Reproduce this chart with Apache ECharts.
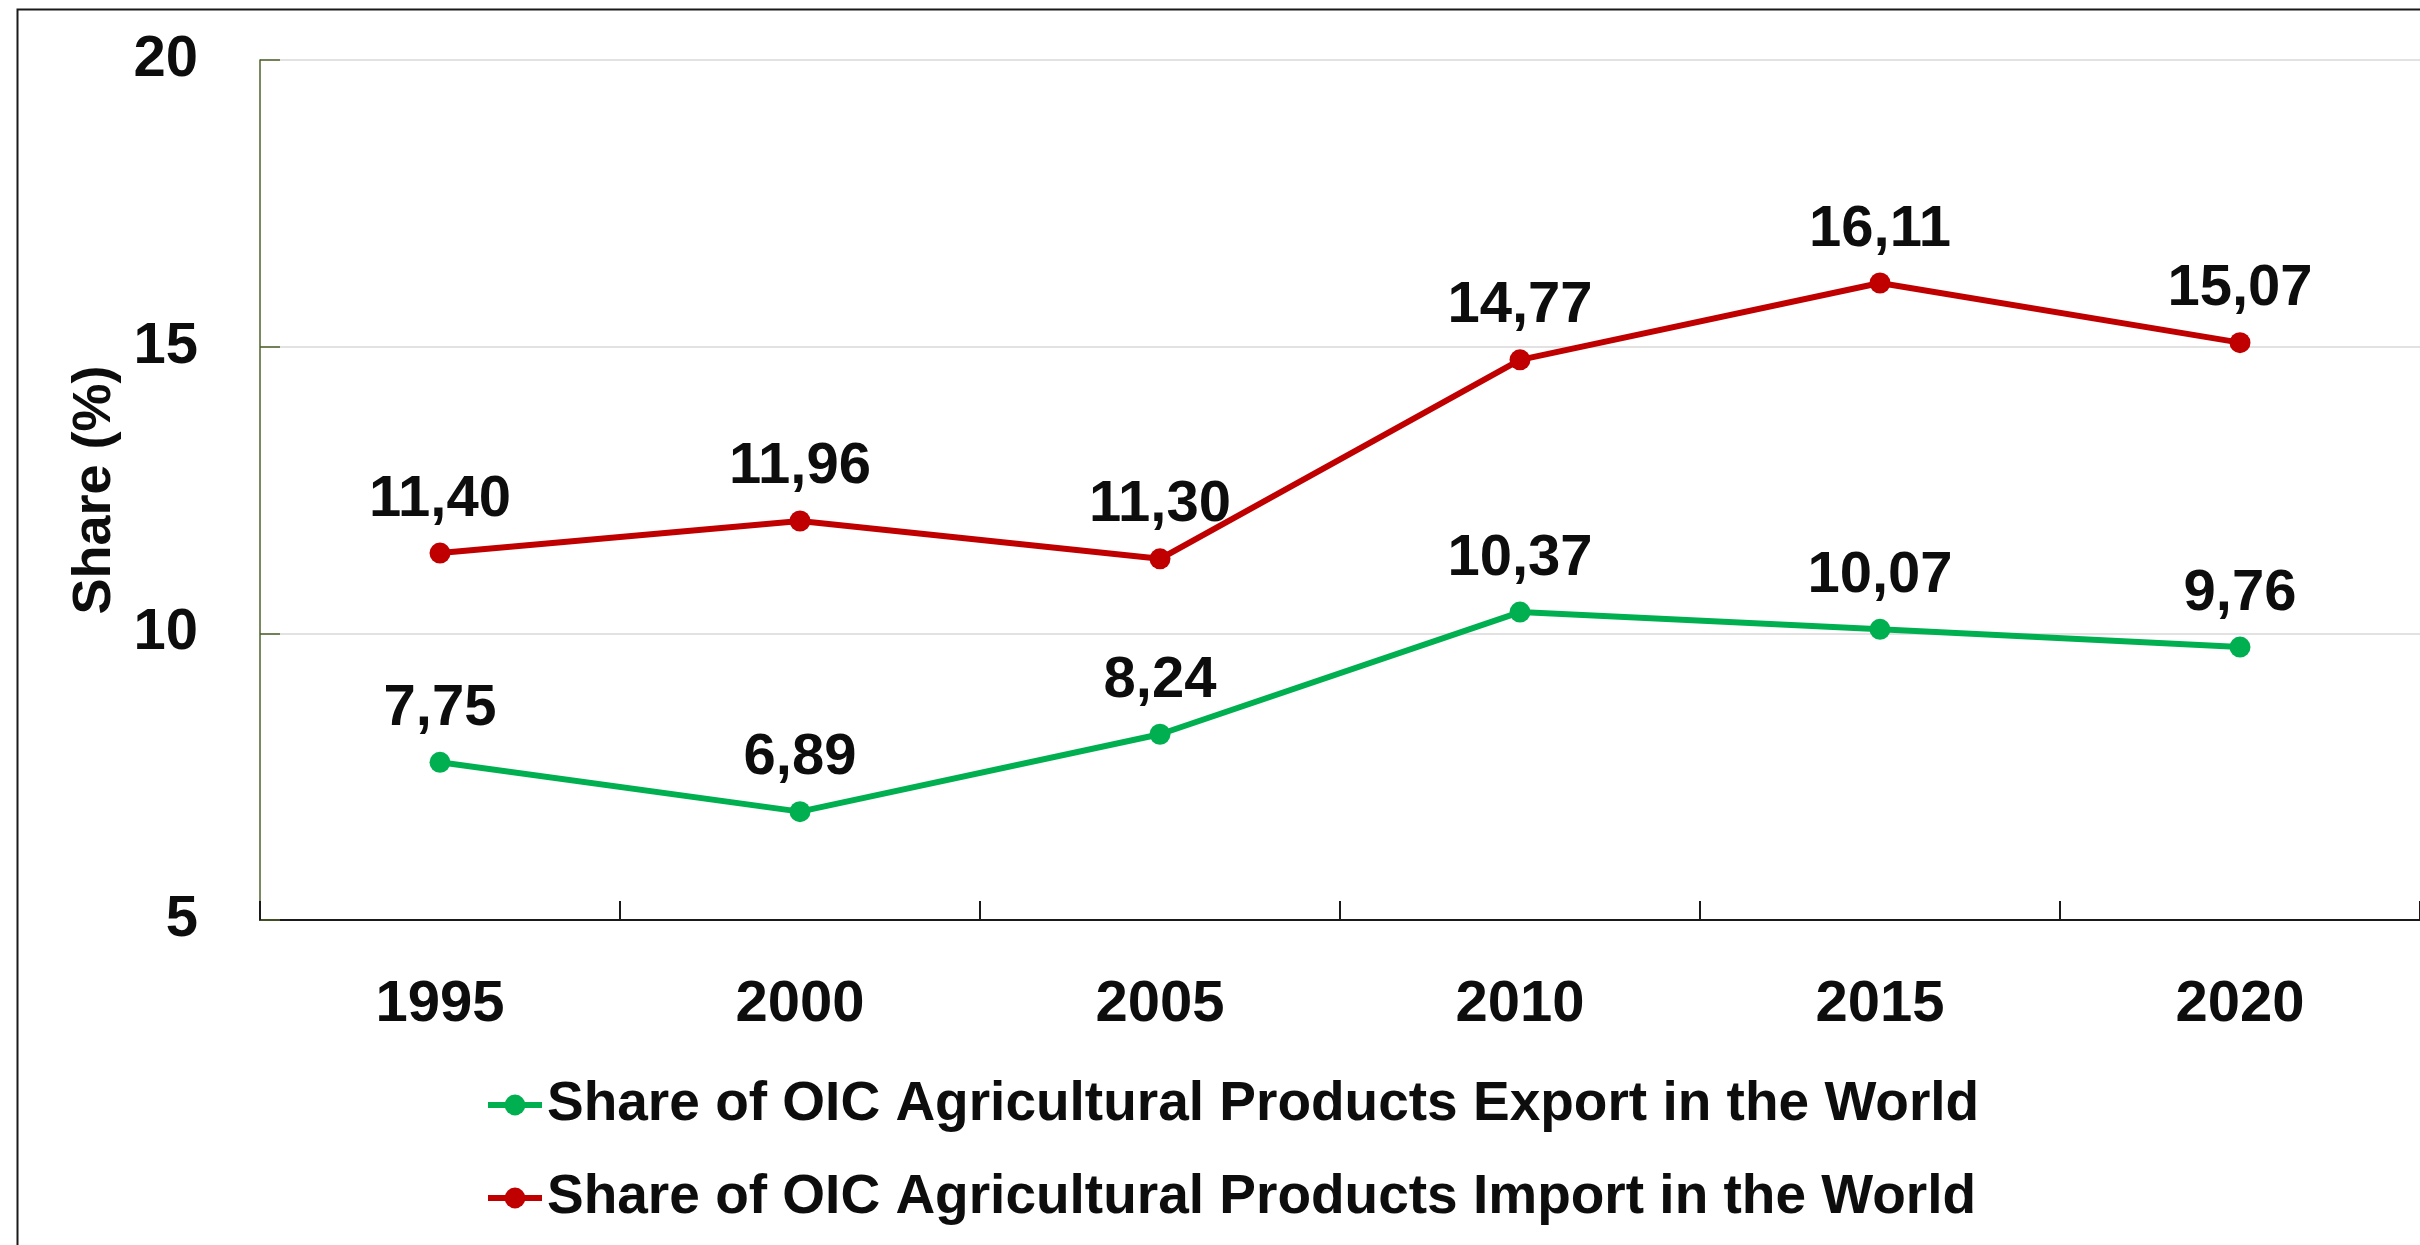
<!DOCTYPE html>
<html>
<head>
<meta charset="utf-8">
<script src="https://cdn.jsdelivr.net/npm/echarts@6/dist/echarts.min.js"></script>
<style>
html,body{margin:0;padding:0;background:#fff;}
#chart{width:2420px;height:1245px;}
</style>
</head>
<body>
<div id="chart"></div>
<script>
const years = ['1995', '2000', '2005', '2010', '2015', '2020'];
const exportShare = [7.75, 6.89, 8.24, 10.37, 10.07, 9.76];
const importShare = [11.40, 11.96, 11.30, 14.77, 16.11, 15.07];
const exportName = 'Share of OIC Agricultural Products Export in the World';
const importName = 'Share of OIC Agricultural Products Import in the World';
const yAxisTitle = 'Share (%)';

const FONT = "'Liberation Sans', Arial, sans-serif";
const TXT = '#0d0d0d';

const chart = echarts.init(document.getElementById('chart'));
const fmt = p => p.value.toFixed(2).replace('.', ',');

function lineSeries(name, data, color) {
  return {
    name: name,
    type: 'line',
    data: data,
    symbol: 'circle',
    symbolSize: 21,
    lineStyle: { color: color, width: 6 },
    itemStyle: { color: color },
    label: {
      show: true,
      position: 'top',
      distance: 14,
      formatter: fmt,
      fontFamily: FONT,
      fontWeight: 'bold',
      fontSize: 58,
      color: TXT
    },
    animation: false
  };
}

chart.setOption({
  animation: false,
  backgroundColor: '#ffffff',
  graphic: [{
    type: 'rect',
    left: 15,
    top: 7,
    shape: { width: 2500, height: 1400 },
    style: { fill: 'none', stroke: '#1a1a1a', lineWidth: 2 },
    silent: true
  }],
  grid: { left: 260, right: 0, top: 60, bottom: 325 },
  legend: {
    orient: 'vertical',
    left: 480,
    top: 1070,
    itemGap: 33,
    itemWidth: 54,
    itemHeight: 26,
    lineStyle: { width: 6 },
    textStyle: { fontFamily: FONT, fontWeight: 'bold', fontSize: 55, color: TXT, lineHeight: 60 },
    data: [exportName, importName]
  },
  xAxis: {
    type: 'category',
    data: years,
    boundaryGap: true,
    axisLine: { lineStyle: { color: '#1a1a1a', width: 2 } },
    axisTick: { show: true, inside: true, length: 19, alignWithLabel: false, lineStyle: { color: '#1a1a1a', width: 2 } },
    axisLabel: { fontFamily: FONT, fontWeight: 'bold', fontSize: 58, color: TXT, margin: 56 },
    splitLine: { show: false }
  },
  yAxis: {
    type: 'value',
    min: 5,
    max: 20,
    interval: 5,
    name: yAxisTitle,
    nameLocation: 'middle',
    nameGap: 135,
    nameRotate: 90,
    nameTextStyle: { fontFamily: FONT, fontWeight: 'bold', fontSize: 54, color: TXT },
    axisLine: { show: true, lineStyle: { color: '#4f6228', width: 1.5 } },
    axisTick: { show: true, inside: true, length: 20, lineStyle: { color: '#4f6228', width: 1.5 } },
    axisLabel: { fontFamily: FONT, fontWeight: 'bold', fontSize: 58, color: TXT, margin: 62 },
    splitLine: { show: true, lineStyle: { color: '#d9d9d9', width: 1.5 } }
  },
  series: [
    lineSeries(exportName, exportShare, '#00b050'),
    lineSeries(importName, importShare, '#c00000')
  ]
});
</script>
</body>
</html>
